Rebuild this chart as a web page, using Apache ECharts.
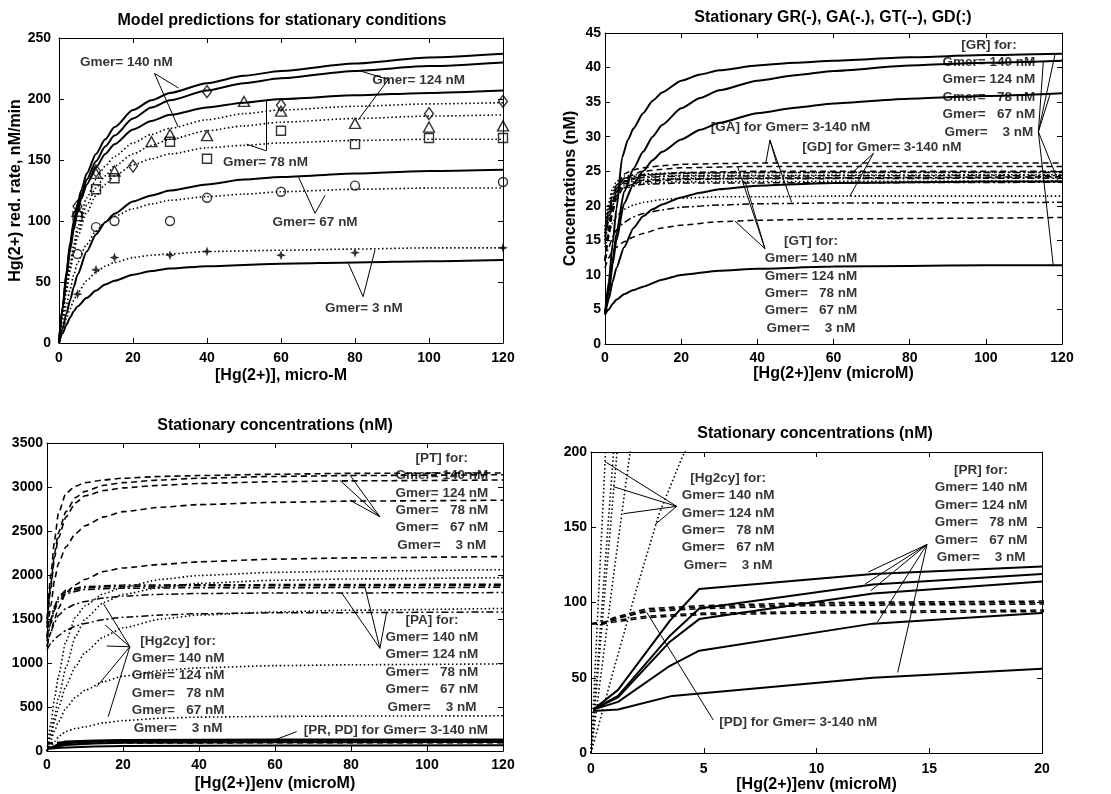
<!DOCTYPE html>
<html><head><meta charset="utf-8">
<script src="https://cdn.jsdelivr.net/npm/echarts@6/dist/echarts.min.js"></script>
<style>html,body{margin:0;padding:0;background:#fff}#c{width:1111px;height:794px}</style>
</head><body><div id="c"></div>
<script>
// ================= DATA =================
// Panel 1: Hg(2+) reduction rate (nM/min) vs [Hg(2+)] (micro-M); curves for Gmer = 140,124,78,67,3 nM
const p1ModelSolid = [
  [[0,0],[1,30],[2,58],[3,82],[4,100],[5,114],[6,125],[7.5,139],[10,155],[12.5,167],[15,177],[20,191],[25,199],[30,205],[40,213],[50,219],[60,223],[80,229],[100,234],[120,237]],
  [[0,0],[1,29],[2,56],[3,79],[4,96],[5,110],[6,121],[7.5,134],[10,149],[12.5,161],[15,170],[20,184],[25,193],[30,199],[40,207],[50,213],[60,217],[80,223],[100,227],[120,230]],
  [[0,0],[1,28],[2,54],[3,76],[4,93],[5,107],[6,118],[7.5,130],[10,144],[12.5,155],[15,163],[20,175],[25,182],[30,187],[40,193],[50,197],[60,200],[80,203],[100,205],[120,207]],
  [[0,0],[1,12],[2,24],[3,35],[4,46],[5,56],[7.5,75],[10,89],[12.5,99],[15,106],[20,116],[25,121],[30,125],[40,130],[50,134],[60,136],[80,139],[100,141],[120,142]],
  [[0,0],[1,8],[2,15],[3,21],[4,26],[5,30],[7.5,37],[10,43],[12.5,48],[15,51],[20,56],[25,59],[30,61],[40,63],[60,65],[80,66],[100,67],[120,68]]
];
const p1ModelDotted = [
  [[0,0],[1,24],[2,46],[3,65],[4,81],[5,95],[7.5,119],[10,134],[12.5,145],[15,153],[20,164],[25,171],[30,176],[40,183],[50,188],[60,191],[80,194],[100,196],[120,197]],
  [[0,0],[1,23],[2,44],[3,62],[4,78],[5,91],[7.5,113],[10,127],[12.5,137],[15,145],[20,155],[25,162],[30,167],[40,174],[50,178],[60,181],[80,184],[100,186],[120,187]],
  [[0,0],[1,22],[2,42],[3,59],[4,74],[5,87],[7.5,107],[10,121],[12.5,130],[15,137],[20,146],[25,151],[30,155],[40,160],[50,162],[60,164],[80,166],[100,167],[120,167]],
  [[0,0],[1,16],[2,31],[3,44],[4,56],[5,66],[7.5,81],[10,92],[12.5,99],[15,104],[20,110],[25,114],[30,117],[40,120],[50,122],[60,124],[80,126],[100,127],[120,127]],
  [[0,0],[1,10],[2,20],[3,28],[4,35],[5,41],[7.5,51],[10,58],[12.5,63],[15,66],[20,70],[25,72],[30,73],[40,75],[60,76],[80,77],[100,78],[120,78]]
];
const p1ObsDiamond = [[5,112],[10,141],[20,145],[40,206],[60,195],[100,188],[120,198]];
const p1ObsTriangle = [[5,108],[10,139],[15,141],[25,165],[30,171],[40,170],[50,198],[60,190],[80,180],[100,177],[120,178]];
const p1ObsSquare = [[5,104],[10,126],[15,135],[30,165],[40,151],[60,174],[80,163],[100,168],[120,168]];
const p1ObsCircle = [[5,73],[10,95],[15,100],[30,100],[40,119],[60,124],[80,129],[120,132]];
const p1ObsStar = [[5,40],[10,60],[15,70],[30,72],[40,75],[60,72],[80,74],[120,78]];

// Panel 2: GR (solid), GT (dashed), GA (dash-dot), GD (dotted), nM
const p2GR = [
  [[0,4.3],[1,9],[2,14.5],[3,19.5],[4.5,27],[6,29.5],[7.5,31.2],[10,33.4],[12.5,35.2],[15,36.4],[20,38.1],[25,39],[30,39.6],[40,40.3],[50,40.7],[60,41],[80,41.5],[100,41.8],[120,42]],
  [[0,4.3],[1,8],[2,12],[3,16],[5,22],[7.5,25.4],[10,27.8],[12.5,30],[15,31.7],[20,34.1],[25,35.6],[30,36.7],[40,38.1],[50,38.9],[60,39.5],[80,40.3],[100,40.7],[120,41]],
  [[0,4.3],[1,7.5],[2,11.5],[3,15],[5,20.3],[7.5,23.2],[10,25],[12.5,26.6],[15,27.8],[20,29.6],[25,31],[30,32],[40,33.4],[50,34.2],[60,34.8],[80,35.5],[100,35.9],[120,36.3]],
  [[0,4.3],[1,6.5],[2,9],[3,11],[5,14],[7.5,16.8],[10,18.5],[12.5,19.5],[15,20.2],[20,21.2],[25,21.9],[30,22.4],[40,22.9],[60,23.3],[80,23.4],[100,23.5],[120,23.5]],
  [[0,4.3],[1,5],[2,5.8],[3,6.4],[5,7.2],[7.5,7.8],[10,8.3],[15,9.3],[20,10],[30,10.6],[40,10.9],[60,11.2],[80,11.3],[100,11.4],[120,11.4]]
];
const p2GT = [
  [[0,12],[1,17],[2,20.5],[3,22.5],[5,24.6],[7.5,25.2],[10,25.5],[15,25.8],[20,26],[30,26.1],[40,26.2],[60,26.2],[120,26.2]],
  [[0,12],[1,16.5],[2,20],[3,22],[5,24],[10,25],[15,25.3],[20,25.5],[40,25.7],[60,25.7],[120,25.7]],
  [[0,12],[1,16],[2,19.5],[3,21.5],[5,23.5],[10,24.4],[20,24.8],[40,25],[120,25]],
  [[0,12],[1,15.5],[2,19],[3,21],[5,22.8],[10,23.5],[20,23.8],[40,24],[120,24.2]],
  [[0,11],[1,12.5],[2,13.5],[3,14],[5,14.8],[7.5,15.5],[10,16],[15,16.8],[20,17.2],[30,17.7],[40,17.9],[60,18.1],[120,18.3]]
];
const p2GA = [
  [[0,16],[1,19.5],[2,21.5],[3,23],[5,24],[10,24.5],[20,24.7],[40,24.8],[120,24.8]],
  [[0,15.5],[1,19],[2,21],[3,22.5],[5,23.6],[10,24.1],[20,24.3],[120,24.4]],
  [[0,15],[1,18.5],[2,20.5],[3,22],[5,23.2],[10,23.7],[20,23.9],[120,24]],
  [[0,14.5],[1,18],[2,20],[3,21.5],[5,22.6],[10,23.1],[20,23.3],[120,23.4]],
  [[0,12],[1,14],[2,15.5],[3,16.5],[5,17.6],[7.5,18.4],[10,18.9],[15,19.4],[20,19.8],[30,20.1],[40,20.3],[60,20.4],[120,20.5]]
];
const p2GD = [
  [[0,17],[1,20.5],[2,22.5],[3,23.5],[5,24.3],[10,24.6],[20,24.8],[120,24.9]],
  [[0,16.5],[1,20],[2,22],[3,23],[5,23.9],[10,24.2],[20,24.4],[120,24.5]],
  [[0,16],[1,19.5],[2,21.5],[3,22.6],[5,23.4],[10,23.8],[20,24],[120,24.1]],
  [[0,15.5],[1,19],[2,21],[3,22],[5,22.9],[10,23.3],[20,23.5],[120,23.6]],
  [[0,14],[1,16],[2,17.5],[3,18.5],[5,19.5],[7.5,20.1],[10,20.5],[15,20.9],[20,21.1],[30,21.3],[40,21.3],[60,21.4],[120,21.4]]
];

// Panels 3 & 4: PT (dashed), PA (dash-dot), Hg2cy (dotted), PR (solid), PD (dashed), nM
const pPT = [
  [[0,1500],[1,2000],[2,2400],[3,2700],[5,2930],[7.5,3010],[10,3050],[15,3080],[20,3100],[30,3120],[40,3130],[60,3145],[80,3155],[120,3160]],
  [[0,1450],[1,1900],[2,2250],[3,2480],[5,2720],[7.5,2880],[10,2950],[15,3020],[20,3050],[30,3080],[40,3100],[60,3120],[80,3130],[120,3140]],
  [[0,1400],[1,1850],[2,2200],[3,2420],[5,2660],[7.5,2820],[10,2900],[15,2960],[20,2990],[30,3020],[40,3040],[60,3060],[80,3070],[120,3080]],
  [[0,1300],[1,1650],[2,1950],[3,2130],[5,2320],[7.5,2470],[10,2560],[15,2660],[20,2720],[30,2770],[40,2800],[60,2825],[80,2840],[120,2850]],
  [[0,1180],[1,1350],[2,1500],[3,1620],[5,1800],[7.5,1890],[10,1950],[15,2040],[20,2080],[30,2120],[40,2150],[60,2180],[80,2195],[120,2210]]
];
const pPA = [
  [[0,1300],[1,1500],[2,1650],[3,1750],[5,1830],[10,1870],[20,1885],[40,1890],[120,1895]],
  [[0,1280],[1,1480],[2,1630],[3,1730],[5,1810],[10,1855],[20,1870],[40,1878],[120,1880]],
  [[0,1250],[1,1450],[2,1600],[3,1700],[5,1790],[10,1835],[20,1850],[40,1855],[120,1860]],
  [[0,1200],[1,1350],[2,1460],[3,1540],[5,1620],[7.5,1670],[10,1700],[15,1740],[20,1760],[30,1780],[40,1790],[60,1795],[120,1800]],
  [[0,1150],[1,1220],[2,1270],[3,1310],[5,1370],[7.5,1420],[10,1450],[15,1495],[20,1520],[30,1545],[40,1560],[60,1570],[120,1580]]
];
const pHg2cy = [
  [[0,0],[1,310],[2,600],[3,850],[5,1250],[7.5,1520],[10,1650],[15,1790],[20,1860],[30,1950],[40,1995],[60,2030],[80,2045],[120,2060]],
  [[0,0],[1,200],[2,400],[3,600],[5,950],[7.5,1300],[10,1500],[15,1690],[20,1780],[30,1860],[40,1905],[60,1940],[80,1955],[120,1970]],
  [[0,0],[1,174],[2,340],[3,490],[5,740],[7.5,960],[10,1120],[15,1300],[20,1400],[30,1500],[40,1545],[60,1580],[80,1600],[120,1620]],
  [[0,0],[1,118],[2,230],[3,330],[5,490],[7.5,610],[10,690],[15,790],[20,850],[30,915],[40,945],[60,970],[80,980],[120,990]],
  [[0,0],[1,55],[2,108],[3,158],[4,195],[5,225],[7.5,255],[10,275],[15,320],[20,345],[30,372],[40,385],[60,393],[80,397],[120,400]]
];
const pPR = [
  [[0.1,29],[1.2,42],[3.5,88],[4.8,109],[12.5,119],[20,124],[40,128],[60,130],[80,131],[120,132]],
  [[0.1,29],[1.2,38],[3.5,78],[4.8,96],[12.5,112],[20,119],[40,122],[60,123],[80,124],[120,125]],
  [[0.1,29],[1.2,37],[3.5,74],[4.8,89],[12.5,106],[20,114],[40,117],[60,118],[80,119],[120,120]],
  [[0.1,29],[1.2,34],[3.5,58],[4.8,68],[12.5,86],[20,93],[40,97],[60,99],[80,100],[120,101]],
  [[0.1,28],[1.2,29],[3.6,38],[12.5,50],[20,56],[40,60],[60,62],[80,63],[120,64]]
];
const pPD = [
  [[0,86],[0.6,87],[1,90],[2.5,96],[5,98],[10,100],[20,101],[60,102],[120,102]],
  [[0,86],[0.6,87],[1,89],[2.5,95],[5,97],[10,99],[20,100],[60,101],[120,101]],
  [[0,86],[0.6,87],[1,89],[2.5,94],[5,96],[10,98],[20,99],[60,100],[120,100]],
  [[0,86],[0.6,86],[1,88],[2.5,91],[5,93],[10,94],[20,95],[60,96],[120,96]],
  [[0,86],[0.6,86],[1,87],[2.5,90],[5,92],[10,93],[20,94],[60,95],[120,95]]
];

// Texts
const titles = ['Model predictions for stationary conditions','Stationary GR(-), GA(-.), GT(--), GD(:)','Stationary concentrations (nM)','Stationary concentrations (nM)'];
const xNames = ['[Hg(2+)], micro-M','[Hg(2+)]env (microM)','[Hg(2+)]env (microM)','[Hg(2+)]env (microM)'];
const yNames = ['Hg(2+) red. rate, nM/min','Concentrations (nM)','',''];
const gmerBlock = 'Gmer= 140 nM\nGmer= 124 nM\nGmer=   78 nM\nGmer=   67 nM\nGmer=    3 nM';
const p1Labels = ['Gmer= 140 nM','Gmer= 124 nM','Gmer= 78 nM','Gmer= 67 nM','Gmer= 3 nM'];
const p2Labels = ['[GR] for:\n' + gmerBlock, '[GA] for Gmer= 3-140 nM', '[GD] for Gmer= 3-140 nM', '[GT] for:\n' + gmerBlock];
const p3Labels = ['[PT] for:\n' + gmerBlock, '[PA] for:\n' + gmerBlock, '[Hg2cy] for:\n' + gmerBlock, '[PR, PD] for Gmer= 3-140 nM'];
const p4Labels = ['[Hg2cy] for:\n' + gmerBlock, '[PR] for:\n' + gmerBlock, '[PD] for Gmer= 3-140 nM'];

// ================= LAYOUT / ANNOTATION PLACEMENT (data coords) =================
const FF = '"Liberation Sans", Arial, Helvetica, sans-serif';
const K = '#000';
const grids = [
  {left:59, top:38, width:444, height:305},
  {left:605, top:33, width:457, height:311},
  {left:47, top:443, width:456, height:308},
  {left:591, top:452, width:451, height:303}
];
const ranges = [
  {x:[0,120,20], y:[0,250,50]},
  {x:[0,120,20], y:[0,45,5]},
  {x:[0,120,20], y:[0,3500,500]},
  {x:[0,20,5], y:[0,200,50]}
];
const titlePos = [[282,13],[833,10],[275,418],[815,426]];
const xNameGap = [25,19,25,23], xLabMargin = [8,7,7,9];
const yNameGap = [32,26,0,0], yLabMargin = [8,4,4,4];

const p1LabelAt = [[18.2,230.3],[97.2,215.6],[55.8,148.4],[69.2,99.2],[82.4,28.7]];
const p1Leaders = [
  [[25.8,221],[32.3,209]],[[25.8,221],[32.2,177]],
  [[89,216],[81.4,223]],[[89,216],[80.9,183]],
  [[55.9,157.6],[55.9,199]],[[55.9,157.6],[50.7,163]],
  [[69.2,106.3],[64.7,136.3]],[[69.2,106.3],[71.9,121]],
  [[82.2,38],[78.2,65.3]],[[82.2,38],[85.4,76.2]]
];
const p2LabelAt = [[100.8,37.0],[48.7,31.3],[72.7,28.5],[54.1,8.6]];
const p2Leaders = [
  [[113.8,30.7],[115.1,40.9]],[[113.8,30.7],[118.2,42.0]],[[113.8,30.7],[116.9,36.2]],[[113.8,30.7],[119,23.6]],[[113.8,30.7],[117.7,11.4]],
  [[43.3,29.5],[42.2,26.1]],[[43.3,29.5],[45.1,26.1]],[[43.3,29.5],[49,20.5]],
  [[70.5,27.6],[64.8,24.7]],[[70.5,27.6],[64.3,21.4]],
  [[42,13.8],[34.1,17.8]],[[42,13.8],[36.8,23.5]],[[42,13.8],[34.8,25.7]]
];
const p3LabelAt = [[103.9,2835],[101.3,996],[34.5,756],[91.8,239]];
const p3Leaders = [
  [[87.6,2662],[77.1,3075]],[[87.6,2662],[79.7,3136]],[[87.6,2662],[79.7,2850]],
  [[87.6,1167],[77.5,1800]],[[87.6,1167],[83.7,1860]],[[87.6,1167],[89.4,1583]],
  [[21.8,1185],[14.8,1678]],[[21.8,1185],[15.3,1432]],[[21.8,1185],[15.7,1193]],[[21.8,1185],[13.1,731]],[[21.8,1185],[16.1,390]],
  [[65.7,220],[60.4,133]]
];
const p4LabelAt = [[6.08,153.8],[17.3,158.9],[9.19,20.5]];
const p4Leaders = [
  [[3.8,163.9],[0.62,193.6]],[[3.8,163.9],[0.99,177]],[[3.8,163.9],[1.43,159]],[[3.8,163.9],[2.84,151.8]],
  [[14.9,138.6],[12.3,120.3]],[[14.9,138.6],[12.15,112.2]],[[14.9,138.6],[12.4,107.8]],[[14.9,138.6],[12.7,86.9]],[[14.9,138.6],[13.6,53.5]],
  [[5.42,22],[2.47,93.5]]
];

// ================= BUILD =================
const DOT = [1.5,2.5], DASH = [6,4], DASHDOT = [7,3,2,3];
function lineS(p, data, type, width, smooth){
  return {type:'line', xAxisIndex:2*p, yAxisIndex:2*p, data, symbol:'none', showSymbol:false,
    smooth: smooth || false, smoothMonotone:'x', lineStyle:{color:K, width, type}, silent:true, animation:false, z:3};
}
function markS(p, data, symbol, size, filled){
  return {type:'scatter', xAxisIndex:2*p, yAxisIndex:2*p, data, symbol, symbolSize:size,
    itemStyle:{color: filled ? K : 'rgba(255,255,255,0)', borderColor:K, borderWidth: filled ? 0 : 1.4},
    silent:true, animation:false, z:5};
}
function textS(p, texts, at){
  return {type:'scatter', xAxisIndex:2*p, yAxisIndex:2*p, symbolSize:0,
    data: texts.map((t,i)=>({value:at[i], label:{formatter:t}})),
    label:{show:true, position:'inside', color:K, fontFamily:FF, fontWeight:'bold', fontSize:13.5, lineHeight:17.4, align:'center', verticalAlign:'middle'},
    silent:true, animation:false, z:8};
}
function leaderS(p, segs){
  return {type:'lines', coordinateSystem:'cartesian2d', xAxisIndex:2*p, yAxisIndex:2*p,
    data: segs.map(s=>({coords:s})), lineStyle:{color:K, width:1, opacity:1, curveness:0}, silent:true, animation:false, z:6};
}

const xAxes = [], yAxes = [];
const labStyle = {color:K, fontFamily:FF, fontWeight:'bold', fontSize:14, formatter: v => String(v)};
const nameStyle = {color:K, fontFamily:FF, fontWeight:'bold', fontSize:16};
for (let p = 0; p < 4; p++){
  const common = {type:'value', gridIndex:p, splitLine:{show:false},
    axisLine:{show:true, onZero:false, lineStyle:{color:K, width:1}},
    axisTick:{show:true, inside:true, length:5, lineStyle:{color:K, width:1}}};
  const xr = ranges[p].x, yr = ranges[p].y;
  xAxes.push(Object.assign({}, common, {min:xr[0], max:xr[1], interval:xr[2], position:'bottom',
    axisLabel:Object.assign({margin:xLabMargin[p]}, labStyle), name:xNames[p], nameLocation:'middle', nameGap:xNameGap[p], nameTextStyle:nameStyle}));
  xAxes.push(Object.assign({}, common, {min:xr[0], max:xr[1], interval:xr[2], position:'top', axisLabel:{show:false}}));
  yAxes.push(Object.assign({}, common, {min:yr[0], max:yr[1], interval:yr[2], position:'left',
    axisLabel:Object.assign({margin:yLabMargin[p]}, labStyle), name:yNames[p], nameLocation:'middle', nameGap:yNameGap[p], nameTextStyle:nameStyle}));
  yAxes.push(Object.assign({}, common, {min:yr[0], max:yr[1], interval:yr[2], position:'right', axisLabel:{show:false}}));
}

const series = [];
// Panel 1
p1ModelSolid.forEach(d => series.push(lineS(0, d, 'solid', 2, 0.25)));
p1ModelDotted.forEach(d => series.push(lineS(0, d, DOT, 1.6, 0.25)));
series.push(markS(0, p1ObsDiamond, 'diamond', [9,12], false));
series.push(markS(0, p1ObsTriangle, 'triangle', [11,10], false));
series.push(markS(0, p1ObsSquare, 'rect', 9, false));
series.push(markS(0, p1ObsCircle, 'circle', 9, false));
series.push(markS(0, p1ObsStar, 'path://M0,-6L1.6,-1.6L6,0L1.6,1.6L0,6L-1.6,1.6L-6,0L-1.6,-1.6Z', 10, true));
series.push(textS(0, p1Labels, p1LabelAt));
series.push(leaderS(0, p1Leaders));
// Panel 2
p2GR.forEach(d => series.push(lineS(1, d, 'solid', 2, 0.2)));
p2GT.forEach(d => series.push(lineS(1, d, DASH, 1.5, 0.2)));
p2GA.forEach(d => series.push(lineS(1, d, DASHDOT, 1.5, 0.2)));
p2GD.forEach(d => series.push(lineS(1, d, DOT, 1.6, 0.2)));
series.push(textS(1, p2Labels, p2LabelAt));
series.push(leaderS(1, p2Leaders));
// Panel 3
pPT.forEach(d => series.push(lineS(2, d, DASH, 1.6, 0.2)));
pPA.forEach(d => series.push(lineS(2, d, DASHDOT, 1.5, 0.2)));
pHg2cy.forEach(d => series.push(lineS(2, d, DOT, 1.6, 0.2)));
pPR.forEach(d => series.push(lineS(2, d, 'solid', 2, false)));
pPD.forEach(d => series.push(lineS(2, d, DASH, 1.6, false)));
series.push(textS(2, p3Labels, p3LabelAt));
series.push(leaderS(2, p3Leaders));
// Panel 4
pHg2cy.forEach(d => series.push(lineS(3, d, DOT, 1.6, false)));
pPR.forEach(d => series.push(lineS(3, d, 'solid', 2, false)));
pPD.forEach(d => series.push(lineS(3, d, DASH, 1.5, false)));
series.push(textS(3, p4Labels, p4LabelAt));
series.push(leaderS(3, p4Leaders));

const chart = echarts.init(document.getElementById('c'), null, {renderer:'canvas'});
chart.setOption({
  animation:false,
  backgroundColor:'#fff',
  title: titles.map((t,i)=>({text:t, left:titlePos[i][0], top:titlePos[i][1], textAlign:'center', padding:0,
    textStyle:{color:K, fontFamily:FF, fontWeight:'bold', fontSize:16}})),
  grid: grids.map(g => Object.assign({containLabel:false}, g)),
  xAxis: xAxes,
  yAxis: yAxes,
  series
});
</script></body></html>
